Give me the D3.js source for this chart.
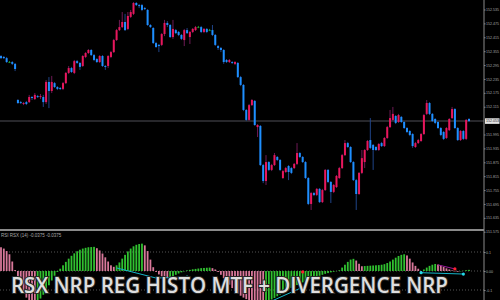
<!DOCTYPE html>
<html>
<head>
<meta charset="utf-8">
<script src="https://cdn.jsdelivr.net/npm/d3@7"></script>
<style>
  html, body { margin: 0; padding: 0; background: #000; }
  svg { display: block; }
</style>
</head>
<body>
<svg id="chart" width="500" height="300"></svg>
<script>
// candles
const opens = [
  152.334, 152.330, 152.325, 152.308, 152.308, 152.300, 152.144, 152.135, 152.127, 152.135,
  152.135, 152.157, 152.148, 152.161, 152.157, 152.157, 152.135, 152.222, 152.183, 152.217,
  152.200, 152.196, 152.192, 152.217, 152.261, 152.282, 152.261, 152.312, 152.304, 152.291,
  152.330, 152.347, 152.360, 152.338, 152.321, 152.308, 152.334, 152.291, 152.291, 152.330,
  152.351, 152.403, 152.446, 152.459, 152.481, 152.451, 152.503, 152.516, 152.563, 152.554,
  152.554, 152.541, 152.533, 152.468, 152.455, 152.390, 152.382, 152.382, 152.429, 152.477,
  152.468, 152.416, 152.446, 152.438, 152.425, 152.403, 152.446, 152.416, 152.438, 152.446,
  152.459, 152.459, 152.438, 152.451, 152.446, 152.446, 152.425, 152.377, 152.369, 152.360,
  152.317, 152.308, 152.308, 152.300, 152.304, 152.243, 152.209, 152.101, 152.058, 152.122,
  152.140, 152.027, 152.032, 151.863, 151.794, 151.876, 151.842, 151.863, 151.898, 151.885,
  151.807, 151.833, 151.859, 151.850, 151.850, 151.868, 151.915, 151.898, 151.876, 151.807,
  151.695, 151.742, 151.734, 151.760, 151.703, 151.755, 151.842, 151.790, 151.747, 151.768,
  151.807, 151.850, 151.906, 151.958, 151.941, 151.876, 151.798, 151.738, 151.829, 151.876,
  151.928, 151.971, 151.950, 151.941, 151.928, 151.958, 151.945, 151.980, 152.027, 152.058,
  152.075, 152.049, 152.071, 152.049, 152.023, 152.010, 151.997, 151.941, 151.958, 151.967,
  151.997, 152.084, 152.131, 152.084, 152.062, 152.049, 152.023, 152.006, 151.980, 152.014,
  152.066, 152.105, 152.023, 151.971, 152.010, 151.976, 152.062
];
const closes = [
  152.325, 152.325, 152.308, 152.308, 152.300, 152.278, 152.131, 152.131, 152.131, 152.127,
  152.157, 152.153, 152.166, 152.157, 152.161, 152.135, 152.222, 152.183, 152.222, 152.200,
  152.192, 152.192, 152.217, 152.261, 152.282, 152.265, 152.312, 152.304, 152.287, 152.334,
  152.347, 152.360, 152.338, 152.317, 152.308, 152.334, 152.291, 152.287, 152.334, 152.351,
  152.403, 152.446, 152.459, 152.481, 152.446, 152.507, 152.524, 152.563, 152.554, 152.550,
  152.533, 152.537, 152.468, 152.459, 152.390, 152.373, 152.377, 152.429, 152.477, 152.468,
  152.416, 152.451, 152.433, 152.425, 152.408, 152.446, 152.433, 152.438, 152.451, 152.459,
  152.459, 152.438, 152.451, 152.438, 152.446, 152.425, 152.382, 152.369, 152.360, 152.308,
  152.308, 152.317, 152.304, 152.308, 152.243, 152.209, 152.101, 152.058, 152.122, 152.144,
  152.036, 152.036, 151.863, 151.794, 151.876, 151.842, 151.863, 151.906, 151.885, 151.842,
  151.837, 151.850, 151.833, 151.829, 151.868, 151.915, 151.898, 151.876, 151.807, 151.695,
  151.742, 151.734, 151.760, 151.703, 151.755, 151.842, 151.790, 151.747, 151.777, 151.816,
  151.850, 151.906, 151.958, 151.941, 151.876, 151.798, 151.738, 151.829, 151.893, 151.928,
  151.967, 151.937, 151.928, 151.928, 151.954, 151.945, 151.980, 152.027, 152.066, 152.084,
  152.045, 152.079, 152.049, 152.023, 152.006, 151.993, 151.945, 151.958, 151.971, 151.997,
  152.079, 152.131, 152.084, 152.053, 152.045, 152.023, 151.993, 151.976, 152.023, 152.062,
  152.105, 152.023, 151.971, 152.010, 151.976, 152.058, 152.053
];
const highs = [
  152.338, 152.334, 152.330, 152.312, 152.312, 152.304, 152.148, 152.140, 152.135, 152.140,
  152.166, 152.161, 152.174, 152.166, 152.170, 152.166, 152.230, 152.243, 152.248, 152.222,
  152.204, 152.200, 152.222, 152.265, 152.291, 152.287, 152.317, 152.317, 152.308, 152.338,
  152.351, 152.364, 152.364, 152.343, 152.325, 152.338, 152.338, 152.295, 152.338, 152.356,
  152.408, 152.451, 152.490, 152.524, 152.516, 152.524, 152.533, 152.567, 152.567, 152.559,
  152.559, 152.546, 152.537, 152.472, 152.459, 152.395, 152.386, 152.433, 152.490, 152.485,
  152.472, 152.490, 152.451, 152.442, 152.429, 152.451, 152.455, 152.442, 152.455, 152.464,
  152.464, 152.464, 152.455, 152.455, 152.451, 152.468, 152.429, 152.382, 152.373, 152.364,
  152.321, 152.321, 152.312, 152.312, 152.308, 152.248, 152.213, 152.105, 152.127, 152.148,
  152.144, 152.040, 152.036, 151.868, 151.906, 151.880, 151.868, 151.915, 151.902, 151.889,
  151.842, 151.855, 151.863, 151.855, 151.872, 151.958, 151.919, 151.902, 151.880, 151.811,
  151.747, 151.747, 151.764, 151.764, 151.760, 151.846, 151.846, 151.794, 151.781, 151.820,
  151.855, 151.911, 151.971, 151.963, 151.945, 151.880, 151.803, 151.833, 151.928, 151.932,
  151.971, 152.066, 151.954, 151.945, 151.958, 151.963, 151.984, 152.032, 152.101, 152.114,
  152.079, 152.084, 152.075, 152.053, 152.027, 152.014, 152.001, 151.963, 151.976, 152.001,
  152.084, 152.144, 152.135, 152.088, 152.066, 152.053, 152.027, 152.010, 152.027, 152.066,
  152.114, 152.109, 152.027, 152.014, 152.014, 152.062, 152.066
];
const lows = [
  152.321, 152.321, 152.304, 152.304, 152.295, 152.269, 152.127, 152.127, 152.122, 152.122,
  152.131, 152.144, 152.144, 152.153, 152.148, 152.114, 152.127, 152.109, 152.174, 152.196,
  152.187, 152.187, 152.187, 152.213, 152.256, 152.261, 152.256, 152.300, 152.274, 152.287,
  152.325, 152.343, 152.334, 152.312, 152.304, 152.304, 152.287, 152.274, 152.282, 152.325,
  152.347, 152.399, 152.442, 152.455, 152.442, 152.446, 152.498, 152.511, 152.550, 152.541,
  152.528, 152.533, 152.464, 152.455, 152.386, 152.369, 152.351, 152.377, 152.420, 152.459,
  152.412, 152.408, 152.429, 152.420, 152.403, 152.377, 152.429, 152.386, 152.433, 152.442,
  152.455, 152.433, 152.433, 152.433, 152.442, 152.420, 152.377, 152.360, 152.351, 152.300,
  152.304, 152.304, 152.300, 152.295, 152.239, 152.204, 152.096, 152.053, 152.053, 152.118,
  152.032, 151.984, 151.859, 151.785, 151.777, 151.837, 151.837, 151.859, 151.880, 151.837,
  151.803, 151.829, 151.798, 151.824, 151.846, 151.863, 151.893, 151.872, 151.803, 151.690,
  151.669, 151.729, 151.729, 151.699, 151.699, 151.751, 151.785, 151.699, 151.742, 151.764,
  151.803, 151.846, 151.902, 151.937, 151.872, 151.794, 151.669, 151.734, 151.824, 151.850,
  151.924, 151.932, 151.842, 151.924, 151.924, 151.941, 151.941, 151.976, 152.023, 152.053,
  152.040, 152.045, 152.045, 152.019, 152.001, 151.988, 151.937, 151.937, 151.954, 151.963,
  151.993, 152.079, 152.079, 152.049, 152.040, 152.019, 151.988, 151.971, 151.976, 152.010,
  152.062, 152.019, 151.967, 151.967, 151.971, 151.971, 152.049
];

// RSX histogram, one value per candle
const histo = [
  0.125, 0.118, 0.105, 0.088, 0.05, 0.005, -0.04, -0.08, -0.115, -0.14,
  -0.155, -0.165, -0.168, -0.16, -0.145, -0.125, -0.1, -0.075, -0.05, -0.025,
  -0.005, 0.012, 0.03, 0.048, 0.065, 0.08, 0.093, 0.104, 0.112, 0.118,
  0.122, 0.125, 0.126, 0.127, 0.12, 0.108, 0.092, 0.072, 0.05, 0.03,
  0.022, 0.03, 0.045, 0.065, 0.085, 0.103, 0.118, 0.13, 0.138, 0.142,
  0.144, 0.135, 0.105, 0.06, 0.02, -0.005, -0.018, -0.028, -0.035, -0.038,
  -0.033, -0.027, -0.02, -0.013, -0.007, -0.002, 0.003, 0.006, 0.009, 0.011,
  0.013, 0.015, 0.016, 0.017, 0.018, 0.015, 0.008, -0.005, -0.02, -0.038,
  -0.055, -0.072, -0.09, -0.105, -0.118, -0.13, -0.14, -0.148, -0.155, -0.16,
  -0.163, -0.166, -0.168, -0.17, -0.165, -0.158, -0.15, -0.142, -0.133, -0.124,
  -0.115, -0.106, -0.097, -0.089, -0.081, -0.074, -0.067, -0.06, -0.054, -0.048,
  -0.042, -0.036, -0.03, -0.025, -0.02, -0.015, -0.011, -0.007, -0.004, -0.001,
  0.004, 0.018, 0.033, 0.048, 0.06, 0.064, 0.055, 0.038, 0.025, 0.026,
  0.027, 0.028, 0.029, 0.03, 0.031, 0.033, 0.036, 0.042, 0.05, 0.06,
  0.07, 0.079, 0.085, 0.088, 0.082, 0.065, 0.045, 0.027, 0.012, -0.004,
  0.008, 0.018, 0.027, 0.033, 0.037, 0.034, 0.028, 0.021, 0.014, 0.008,
  0.003, -0.002, -0.004, -0.002, 0.001, 0.004, 0.006
];

// divergence marks: [candle index, indicator value]
const cyanLines = [
  [[41, 0.016], [55, -0.037], [66, -0.032]],
  [[95, -0.165], [107, -0.085]],
  [[149, -0.009], [164, -0.016]]
];
const cyanDots = [[66, -0.032], [149, -0.009], [164, -0.016]];
const purpleLine = [[155, 0.032], [161, 0.011]];
const redDots = [[107, -0.005], [161, 0.011]];

const priceTicks = [152.535, 152.475, 152.415, 152.355, 152.295, 152.235, 152.175, 152.115,
  151.995, 151.935, 151.875, 151.815, 151.755, 151.695, 151.635, 151.575];
const levelValues = [0.1, 0, -0.1];
const levelLabels = ['0.1', '0.00', '-0.1'];

const titleText = 'RSX NRP REG HISTO MTF + DIVERGENCE NRP';
const subTitle = 'RSI RSX (14) -0.0375 -0.0375';

const COLORS = {
  up: '#e8175d', down: '#1e8fff', doji: '#1f9a2a',
  upWick: '#6e1a55', downWick: '#1f4488',
  hUp: '#30c030', hDown: '#d8789a',
  axis: '#8a8a8a', label: '#a8a8a8', grid: '#6a6a6a'
};

const axisX = 484;
const labelFont = '"Liberation Sans", Arial, sans-serif';
const svg = d3.select('#chart');
svg.append('rect').attr('width', 500).attr('height', 300).attr('fill', '#000');

const x = d3.scaleLinear().domain([0, closes.length - 1]).range([1, 469]);
const y = d3.scaleLinear().domain([151.576, 152.576]).range([231.5, 0]);
const yi = d3.scaleLinear().domain([-0.1, 0.1]).range([290, 252]);

const defs = svg.append('defs');
defs.append('clipPath').attr('id', 'mainClip')
  .append('rect').attr('x', 0).attr('y', 0).attr('width', axisX).attr('height', 229);
defs.append('clipPath').attr('id', 'subClip')
  .append('rect').attr('x', 0).attr('y', 232).attr('width', axisX).attr('height', 68);

const candles = closes.map((c, i) => ({ i, o: opens[i], h: highs[i], l: lows[i], c }));
const bodyColor = d => d.c > d.o ? COLORS.up : d.c < d.o ? COLORS.down : COLORS.doji;
const wickColor = d => d.c > d.o ? COLORS.upWick : d.c < d.o ? COLORS.downWick : COLORS.doji;

const main = svg.append('g').attr('clip-path', 'url(#mainClip)');

// bid line
main.append('line')
  .attr('x1', 0).attr('x2', axisX)
  .attr('y1', y(closes[closes.length - 1])).attr('y2', y(closes[closes.length - 1]))
  .attr('stroke', '#34343a').attr('stroke-width', 1.6);

main.selectAll('line.wick').data(candles).enter().append('line')
  .attr('class', 'wick')
  .attr('x1', d => x(d.i)).attr('x2', d => x(d.i))
  .attr('y1', d => y(d.h)).attr('y2', d => y(d.l))
  .attr('stroke', wickColor).attr('stroke-width', 1);

main.selectAll('rect.body').data(candles).enter().append('rect')
  .attr('class', 'body')
  .attr('x', d => x(d.i) - 1)
  .attr('y', d => y(Math.max(d.o, d.c)))
  .attr('width', 2)
  .attr('height', d => Math.max(1, Math.abs(y(d.o) - y(d.c))))
  .attr('fill', bodyColor);

// separator between price window and indicator window
svg.append('line')
  .attr('x1', 0).attr('x2', axisX).attr('y1', 230).attr('y2', 230)
  .attr('stroke', COLORS.axis).attr('stroke-width', 2);

// indicator window
const sub = svg.append('g').attr('clip-path', 'url(#subClip)');

sub.selectAll('line.level').data(levelValues).enter().append('line')
  .attr('class', 'level')
  .attr('x1', 0).attr('x2', axisX)
  .attr('y1', d => yi(d)).attr('y2', d => yi(d))
  .attr('stroke', COLORS.grid).attr('stroke-width', 0.8)
  .attr('stroke-dasharray', '1,2');

sub.selectAll('rect.bar').data(histo).enter().append('rect')
  .attr('class', 'bar')
  .attr('x', (d, i) => x(i) - 0.9)
  .attr('y', d => Math.min(yi(d), yi(0)))
  .attr('width', 1.8)
  .attr('height', d => Math.abs(yi(d) - yi(0)))
  .attr('fill', (d, i) => i > 0 && d > histo[i - 1] ? COLORS.hUp : COLORS.hDown);

const divLine = d3.line().x(d => x(d[0])).y(d => yi(d[1]));
sub.selectAll('path.cyan').data(cyanLines).enter().append('path')
  .attr('class', 'cyan').attr('d', divLine)
  .attr('fill', 'none').attr('stroke', '#14b4c8').attr('stroke-width', 1);
sub.append('path').attr('d', divLine(purpleLine))
  .attr('fill', 'none').attr('stroke', '#9a1a9a').attr('stroke-width', 1);
sub.selectAll('circle.cdot').data(cyanDots).enter().append('circle')
  .attr('class', 'cdot').attr('cx', d => x(d[0])).attr('cy', d => yi(d[1])).attr('r', 1.6)
  .attr('fill', '#22d8e6');
sub.selectAll('circle.rdot').data(redDots).enter().append('circle')
  .attr('class', 'rdot').attr('cx', d => x(d[0])).attr('cy', d => yi(d[1])).attr('r', 1.6)
  .attr('fill', '#ff2030');

svg.append('text')
  .attr('x', 1).attr('y', 237)
  .attr('fill', COLORS.label)
  .style('font-family', labelFont)
  .style('font-size', '4.5px')
  .text(subTitle);

// right price scale
svg.append('line')
  .attr('x1', axisX).attr('x2', axisX).attr('y1', 0).attr('y2', 300)
  .attr('stroke', COLORS.axis).attr('stroke-width', 1);

const priceAxis = svg.append('g')
  .attr('transform', `translate(${axisX},0)`)
  .call(d3.axisRight(y).tickValues(priceTicks).tickSize(1.5).tickFormat(d3.format('.3f')));
const subAxis = svg.append('g')
  .attr('transform', `translate(${axisX},0)`)
  .call(d3.axisRight(yi).tickValues(levelValues).tickSize(1.5).tickFormat((d, i) => levelLabels[i]));

[priceAxis, subAxis].forEach(g => {
  g.select('.domain').remove();
  g.selectAll('line').attr('stroke', COLORS.axis);
  g.selectAll('text')
    .attr('x', 2)
    .attr('fill', COLORS.label)
    .style('font-family', labelFont)
    .style('font-size', '3.6px');
});

// current price tag
const last = closes[closes.length - 1];
svg.append('rect')
  .attr('x', axisX + 1).attr('y', y(last) - 2.8).attr('width', 14.5).attr('height', 5.6)
  .attr('fill', '#e4e4e4');
svg.append('text')
  .attr('x', axisX + 2).attr('y', y(last) + 1.3)
  .attr('fill', '#222')
  .style('font-family', labelFont)
  .style('font-size', '3.6px')
  .text(d3.format('.3f')(last));

// banner text over the indicator window
svg.append('text')
  .attr('x', 11).attr('y', 293)
  .attr('textLength', 437).attr('lengthAdjust', 'spacingAndGlyphs')
  .attr('fill', '#dedede')
  .attr('stroke', '#2a2a2a').attr('stroke-width', 2)
  .attr('paint-order', 'stroke')
  .style('font-family', '"Open Sans", sans-serif')
  .style('font-weight', 600)
  .style('font-size', '21px')
  .text(titleText);
</script>
</body>
</html>
